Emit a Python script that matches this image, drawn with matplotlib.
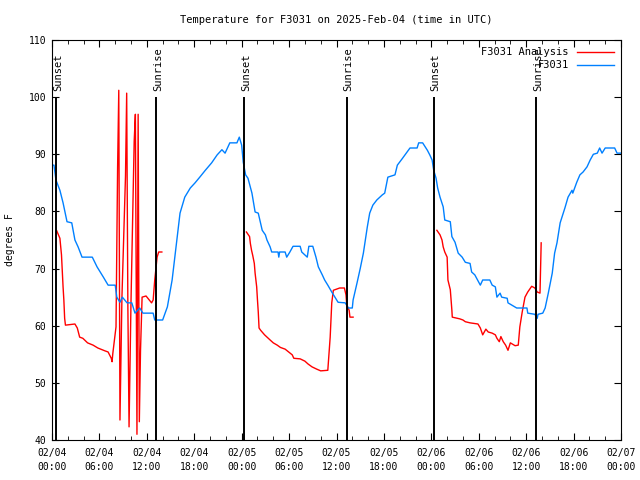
import matplotlib
matplotlib.use("Agg")
import matplotlib.pyplot as plt
import numpy as np

# hours since 02/04 00:00 UTC
obs_hours = [0.0, 0.25, 0.5, 1.0, 1.4, 1.9, 2.5, 2.9, 3.3, 3.8, 5.1, 5.7, 6.5, 7.1, 8.0, 8.2, 8.6,
             8.9, 9.5, 10.1, 10.5, 11.1, 11.5, 12.8, 13.0, 14.0, 14.6, 15.2, 15.8, 16.2, 16.8,
             17.5, 18.1, 18.7, 19.4, 20.2, 20.9, 21.5, 21.9, 22.5, 23.4, 23.7, 24.0, 24.2, 24.5,
             24.8, 25.3, 25.7, 26.1, 26.6, 27.0, 27.2, 27.6, 27.8, 28.6, 28.7, 28.8, 29.5, 29.7,
             30.1, 30.5, 31.4, 31.6, 32.3, 32.5, 33.0, 33.4, 33.7, 34.2, 34.5, 34.9, 35.4, 35.8,
             36.2, 37.1, 37.5, 38.0, 38.1, 38.6, 39.0, 39.4, 39.9, 40.2, 40.6, 41.1, 41.8, 42.1,
             42.5, 43.4, 43.7, 44.3, 45.3, 46.2, 46.4, 46.9, 47.5, 47.8, 48.1, 48.3, 48.6, 48.8,
             49.1, 49.5, 49.7, 50.4, 50.6, 51.0, 51.4, 51.9, 52.3, 52.9, 53.1, 53.5, 54.2, 54.5,
             55.4, 55.7, 56.1, 56.3, 56.7, 56.9, 57.6, 57.7, 58.8, 60.1, 60.2, 61.1, 61.4, 61.5,
             62.1, 62.4, 62.8, 63.3, 63.6, 63.9, 64.3, 64.7, 64.9, 65.3, 65.8, 65.9, 66.4, 66.8,
             67.2, 67.7, 68.1, 68.5, 69.0, 69.3, 69.6, 70.0, 71.2, 71.5, 72.0]
obs_temp = [88.1, 88.1, 85.5, 83.7, 81.5, 78.2, 78.0, 75.0, 73.8, 72.0, 72.0, 70.3, 68.5, 67.1, 67.1, 65.0, 64.1,
            65.0, 64.0, 64.0, 62.2, 63.1, 62.2, 62.2, 61.0, 61.0, 63.3, 68.0, 75.0, 79.7, 82.5,
            84.1, 85.0, 86.0, 87.2, 88.5, 89.9, 90.8, 90.2, 92.0, 92.0, 93.0, 91.6, 88.6, 86.4,
            85.8, 83.2, 79.9, 79.7, 76.7, 75.9, 75.0, 73.8, 72.9, 72.9, 72.0, 72.9, 72.9, 72.0,
            72.9, 73.9, 73.9, 72.9, 72.0, 73.9, 73.9, 72.0, 70.3, 68.9, 68.0, 67.1, 65.9, 65.0,
            64.1, 64.0, 63.1, 63.1, 64.5, 67.5, 70.0, 72.7, 77.3, 79.7, 81.1, 82.0, 82.9, 83.2,
            86.0, 86.4, 88.1, 89.2, 91.1, 91.1, 92.0, 92.0, 90.7, 89.9, 89.0, 87.2, 85.8, 84.1,
            82.5, 80.8, 78.5, 78.2, 75.6, 74.6, 72.7, 72.0, 71.1, 70.9, 69.4, 68.9, 67.1, 68.0,
            68.0, 67.1, 66.8, 65.0, 65.7, 65.0, 64.8, 64.0, 63.1, 63.1, 62.2, 62.0, 61.3, 62.0,
            62.2, 63.1, 65.7, 69.2, 72.7, 74.5, 78.0, 79.7, 80.6, 82.5, 83.7, 83.2, 85.1, 86.4,
            86.9, 87.8, 89.0, 90.0, 90.2, 91.1, 90.2, 91.1, 91.1, 90.2, 90.2]

# analysis runs (three separate segments)
ana1_hours = [0.6, 1.0, 1.2, 1.4, 1.5, 1.6, 1.7, 2.9, 3.2, 3.5, 3.9, 4.5, 5.2, 5.8, 6.7, 7.1, 7.5,
              7.6, 7.7, 8.1, 8.3, 8.45, 8.6, 8.85, 9.3, 9.45, 9.6, 9.75, 10.0, 10.4, 10.55, 10.75,
              10.9, 11.05, 11.2, 11.4, 11.9, 12.6, 12.8, 13.0, 13.3, 13.5, 13.9]
ana1_temp = [76.6, 75.3, 72.4, 66.8, 64.5, 61.3, 60.1, 60.3, 59.6, 58.0, 57.8, 57.0, 56.6, 56.1, 55.6, 55.4, 54.3,
             53.7, 55.2, 59.8, 87.6, 101.2, 43.5, 65.0, 86.2, 100.7, 63.3, 42.3, 64.5, 92.3, 97.0, 41.0,
             97.0, 43.2, 55.7, 65.0, 65.2, 64.0, 64.5, 68.0, 72.0, 72.9, 72.9]
ana2_hours = [24.6, 25.0, 25.1, 25.25, 25.4, 25.6, 25.7, 25.9, 26.0, 26.1, 26.2, 26.4, 26.9, 27.6, 28.0,
              28.5, 28.9, 29.5, 30.4, 30.6, 31.4, 32.0, 32.4, 32.9, 33.5, 34.0, 34.9, 35.2, 35.4,
              35.6, 35.8, 36.4, 37.0, 37.2, 37.3, 37.6, 37.7, 38.1]
ana2_temp = [76.4, 75.6, 74.4, 73.2, 72.3, 70.9, 69.2, 66.8, 64.5, 62.4, 59.6, 59.2, 58.4, 57.5, 57.0,
             56.6, 56.2, 55.9, 54.9, 54.3, 54.2, 53.8, 53.3, 52.8, 52.4, 52.1, 52.2, 58.0, 64.0,
             66.2, 66.3, 66.6, 66.6, 65.4, 63.6, 62.7, 61.5, 61.5]
ana3_hours = [48.7, 49.1, 49.35, 49.5, 49.7, 50.0, 50.1, 50.4, 50.6, 50.65, 51.6, 52.0, 52.3, 52.9,
              53.9, 54.2, 54.5, 54.9, 55.2, 55.7, 56.1, 56.3, 56.6, 56.8, 57.1, 57.4, 57.7, 58.0,
              58.6, 59.0, 59.2, 59.5, 59.85, 60.2, 60.7, 61.1, 61.4, 61.75, 61.9]
ana3_temp = [76.7, 75.9, 75.0, 73.8, 72.9, 72.0, 68.0, 66.3, 62.7, 61.5, 61.2, 61.0, 60.7, 60.5,
             60.3, 59.6, 58.4, 59.4, 58.9, 58.7, 58.4, 57.8, 57.2, 58.1, 57.2, 56.6, 55.7, 57.0,
             56.5, 56.6, 59.8, 62.4, 65.0, 65.9, 66.9, 66.6, 65.9, 65.7, 74.5]

sun_hours = [0.5, 13.15, 24.3, 37.3, 48.3, 61.25]
sun_labels = ["Sunset", "Sunrise", "Sunset", "Sunrise", "Sunset", "Sunrise"]

tick_hours = np.arange(0, 73, 6)
tick_labels = ["02/04\n00:00", "02/04\n06:00", "02/04\n12:00", "02/04\n18:00",
               "02/05\n00:00", "02/05\n06:00", "02/05\n12:00", "02/05\n18:00",
               "02/06\n00:00", "02/06\n06:00", "02/06\n12:00", "02/06\n18:00",
               "02/07\n00:00"]

plt.rcParams['font.family'] = ['DejaVu Sans Mono']
plt.rcParams['font.size'] = 7

fig = plt.figure(figsize=(6.4, 4.8), dpi=100)
ax = fig.add_axes([52 / 640, 40 / 480, 569 / 640, 400 / 480])

red = '#ff0000'
ax.plot(ana1_hours, ana1_temp, color=red, lw=1, label='F3031 Analysis')
ax.plot(ana2_hours, ana2_temp, color=red, lw=1)
ax.plot(ana3_hours, ana3_temp, color=red, lw=1)
ax.plot(obs_hours, obs_temp, color='#0080ff', lw=1, label='F3031')

for h, lab in zip(sun_hours, sun_labels):
    ax.vlines(h, 40, 100, color='black', lw=1.4)
    ax.text(h + 0.25, 101, lab, rotation=90, ha='center', va='bottom', fontsize=7.5)

ax.set_xlim(0, 72)
ax.set_ylim(40, 110)
ax.set_xticks(tick_hours)
ax.set_xticklabels(tick_labels, linespacing=1.45)
ax.set_xticks(np.arange(0, 73, 2), minor=True)
ax.set_yticks(np.arange(40, 111, 10))
ax.tick_params(which='both', direction='in', top=True, right=True, pad=6)
ax.tick_params(which='major', length=5)
ax.tick_params(which='minor', length=3)
ax.tick_params(axis='y', pad=4)
ax.set_ylabel('degrees F', labelpad=10)
ax.set_title('Temperature for F3031 on 2025-Feb-04 (time in UTC)', fontsize=7.5, pad=12)

ax.legend(loc='upper right', frameon=False, markerfirst=False, handlelength=3.5,
          borderaxespad=0.3, labelspacing=0.3, fontsize=7.5)

fig.savefig('out.png', dpi=100)
